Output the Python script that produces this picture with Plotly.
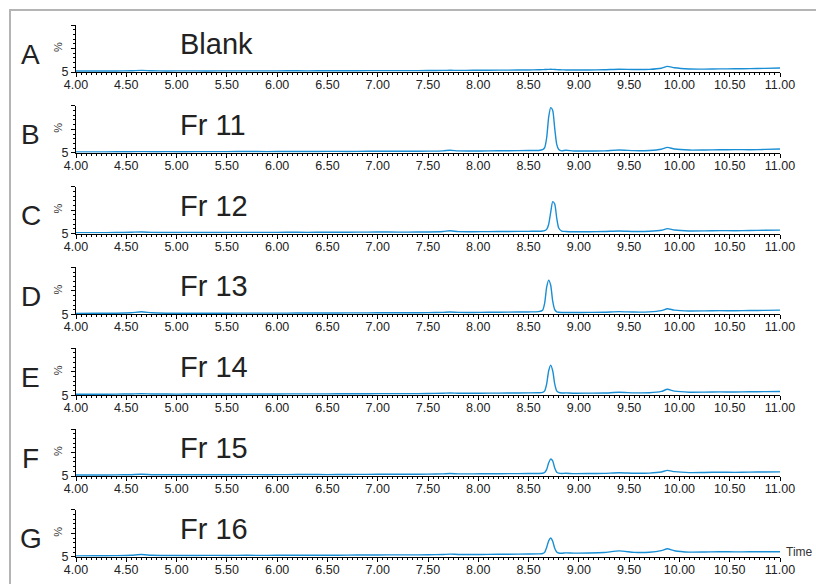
import plotly.graph_objects as go

# ---------------- data ----------------
time_min = [4.00, 4.20, 4.40, 4.55, 4.65, 4.75, 4.90, 5.10, 5.30, 5.50, 5.70, 5.90, 6.10, 6.30,
            6.50, 6.70, 6.90, 7.10, 7.30, 7.50, 7.65, 7.72, 7.80, 7.95, 8.10, 8.30, 8.50, 8.60,
            8.64, 8.66, 8.68, 8.70, 8.72, 8.74, 8.76, 8.78, 8.80, 8.83, 8.87, 8.95, 9.10, 9.25,
            9.40, 9.55, 9.70, 9.82, 9.88, 9.95, 10.10, 10.25, 10.40, 10.55, 10.70, 10.85, 11.00]

panel_letters = ["A", "B", "C", "D", "E", "F", "G"]
sample_names = ["Blank", "Fr 11", "Fr 12", "Fr 13", "Fr 14", "Fr 15", "Fr 16"]

blank = [2.0, 2.0, 2.2, 2.6, 3.5, 2.6, 2.2, 2.4, 2.2, 2.5, 2.4, 2.3, 2.6, 2.5, 2.8, 2.7, 2.9, 3.0,
         2.9, 3.2, 3.4, 3.6, 3.4, 3.6, 3.8, 4.0, 4.4, 4.8, 5.0, 5.2, 5.4, 5.6, 5.8, 5.6, 5.4, 5.0,
         4.8, 4.6, 4.4, 4.2, 4.4, 4.8, 6.0, 5.2, 5.6, 8.0, 12.0, 9.0, 6.5, 6.2, 6.6, 6.8, 7.2, 7.8, 8.5]
fr11 = [2.0, 2.0, 2.1, 2.3, 2.6, 2.3, 2.4, 2.3, 2.6, 2.5, 2.7, 2.6, 2.9, 2.8, 3.0, 2.9, 3.2, 3.3,
        3.2, 3.5, 4.2, 5.5, 4.0, 3.8, 4.2, 4.4, 4.8, 5.0, 6.5, 11, 32, 76, 96, 90, 52, 18, 7.0, 4.2,
        5.5, 3.8, 3.8, 4.2, 6.0, 4.6, 5.0, 7.5, 11.5, 8.0, 5.8, 6.0, 6.4, 6.8, 6.6, 7.2, 8.0]
fr12 = [2.0, 2.0, 2.2, 2.8, 3.4, 2.6, 2.4, 2.5, 2.4, 2.6, 2.5, 2.6, 2.8, 2.7, 3.0, 2.9, 3.2, 3.3,
        3.2, 3.5, 4.5, 6.0, 4.2, 4.0, 4.3, 4.5, 4.8, 5.0, 5.6, 6.4, 9.0, 20, 45, 68, 63, 33, 12, 5.5,
        4.6, 3.8, 4.0, 4.4, 5.6, 4.6, 5.0, 7.0, 10.5, 7.6, 5.6, 5.8, 6.4, 6.2, 6.6, 7.0, 7.4]
fr13 = [2.0, 2.3, 2.6, 3.4, 5.5, 3.4, 2.6, 2.5, 2.6, 2.5, 2.8, 2.7, 2.8, 3.0, 2.9, 3.2, 3.3, 3.5,
        3.4, 3.7, 4.4, 5.0, 4.3, 4.2, 4.5, 4.8, 5.2, 6.0, 9.0, 24, 58, 73, 62, 28, 10, 5.5, 4.6, 4.2,
        4.2, 4.0, 4.3, 4.6, 6.0, 5.0, 5.4, 8.0, 12.0, 9.0, 7.2, 7.5, 8.0, 7.8, 8.2, 8.6, 9.0]
fr14 = [2.0, 2.0, 2.3, 2.6, 3.2, 2.6, 2.4, 2.4, 2.6, 2.5, 2.7, 2.6, 2.8, 2.9, 2.8, 3.1, 3.2, 3.4,
        3.3, 3.6, 4.2, 4.8, 4.2, 4.1, 4.4, 4.6, 4.9, 5.2, 6.0, 9.0, 24, 52, 64, 52, 24, 9.0, 5.8, 4.6,
        5.0, 4.2, 4.4, 4.6, 6.2, 5.0, 5.2, 8.0, 12.5, 8.6, 6.4, 6.6, 7.0, 6.8, 7.2, 7.6, 7.8]
fr15 = [2.0, 2.0, 2.3, 2.8, 3.6, 2.8, 2.6, 2.6, 2.8, 2.6, 3.0, 2.8, 3.0, 3.2, 3.0, 3.3, 3.5, 3.7,
        3.7, 4.0, 4.6, 5.2, 4.6, 4.5, 4.8, 5.0, 5.2, 5.4, 5.8, 7.5, 14, 28, 36, 32, 17, 8.0, 6.0, 5.4,
        5.8, 5.0, 5.2, 5.6, 7.0, 5.8, 6.2, 8.5, 12.0, 9.2, 7.2, 7.6, 8.0, 7.8, 8.2, 8.6, 8.8]
fr16 = [2.0, 2.2, 2.5, 3.2, 4.8, 3.2, 2.8, 2.8, 3.0, 2.9, 3.2, 3.0, 3.3, 3.4, 3.3, 3.6, 3.8, 4.0,
        4.0, 4.3, 5.0, 5.6, 5.0, 4.9, 5.2, 5.5, 5.8, 6.2, 7.0, 9.5, 20, 34, 40, 33, 18, 10, 8.0, 7.6,
        8.4, 7.8, 8.0, 9.0, 12.5, 9.4, 9.6, 13, 17, 13, 10, 10.2, 10.8, 10.4, 10.6, 10.8, 10.6]

series = [blank, fr11, fr12, fr13, fr14, fr15, fr16]

x_tick_vals = [4.0, 4.5, 5.0, 5.5, 6.0, 6.5, 7.0, 7.5, 8.0, 8.5, 9.0, 9.5, 10.0, 10.5, 11.0]
x_tick_text = ["4.00", "4.50", "5.00", "5.50", "6.00", "6.50", "7.00", "7.50", "8.00", "8.50",
               "9.00", "9.50", "10.00", "10.50", "11.00"]
y_tick_vals = [0, 50, 100]
y_tick_text = ["5", "", ""]

# ---------------- layout ----------------
W, H = 816, 584
LINE_COLOR = "#1a8ed4"
FONT = "Liberation Sans, Arial, sans-serif"
x_dom = [76 / W, 780 / W]
base0, step, ph = 72.0, 80.8, 47.0

fig = go.Figure()
layout = dict(
    width=W, height=H, margin=dict(l=0, r=0, t=0, b=0, autoexpand=False),
    paper_bgcolor="white", plot_bgcolor="white", showlegend=False,
    font=dict(family=FONT, color="#222"),
)
annotations = []
for i, (ys, letter, name) in enumerate(zip(series, panel_letters, sample_names)):
    n = "" if i == 0 else str(i + 1)
    base = base0 + step * i
    top = base - ph
    fig.add_trace(go.Scatter(x=time_min, y=ys, mode="lines",
                             line=dict(color=LINE_COLOR, width=1.4, shape="spline", smoothing=0.6),
                             xaxis="x" + n, yaxis="y" + n, hoverinfo="skip", cliponaxis=False))
    layout["xaxis" + n] = dict(
        domain=x_dom, anchor="y" + n, range=[4, 11], tickvals=x_tick_vals, ticktext=x_tick_text,
        ticks="outside", ticklen=4, tickcolor="#000", tickwidth=1, automargin=False,
        ticklabelstandoff=-3,
        showline=True, linecolor="#000", linewidth=1, showgrid=False, zeroline=False,
        tickfont=dict(size=12.5, color="#222", family=FONT),
        minor=dict(dtick=0.05, tick0=4, ticks="outside", ticklen=2, tickcolor="#000", showgrid=False),
    )
    layout["yaxis" + n] = dict(
        domain=[(H - base) / H, (H - top) / H], anchor="x" + n, range=[0, 100],
        tickvals=y_tick_vals, ticktext=y_tick_text, ticks="outside", ticklen=4, automargin=False,
        tickcolor="#000", tickwidth=1, showline=True, linecolor="#000", linewidth=1,
        showgrid=False, zeroline=False, tickfont=dict(size=12.5, color="#222", family=FONT),
        minor=dict(dtick=10, ticks="outside", ticklen=2, tickcolor="#000", showgrid=False),
    )
    annotations.append(dict(text=letter, x=31 / W, y=(H - (base - 18)) / H, xref="paper",
                            yref="paper", xanchor="center", yanchor="middle", showarrow=False,
                            font=dict(size=28, color="#222", family=FONT)))
    annotations.append(dict(text="%", x=58 / W, y=(H - (base - 25)) / H, xref="paper",
                            yref="paper", xanchor="center", yanchor="middle", showarrow=False,
                            textangle=-90, font=dict(size=11, color="#333", family=FONT)))
    annotations.append(dict(text=name, x=178 / W, y=(H - (base - 28)) / H, xref="paper",
                            yref="paper", xanchor="left", yanchor="middle", showarrow=False,
                            font=dict(size=29, color="#222", family=FONT)))

annotations.append(dict(text="Time", x=784 / W, y=(H - (base0 + step * 6 - 5)) / H, xref="paper",
                        yref="paper", xanchor="left", yanchor="middle", showarrow=False,
                        font=dict(size=12, color="#333", family=FONT)))
layout["annotations"] = annotations
layout["shapes"] = [dict(type="rect", xref="paper", yref="paper", x0=10 / W, y0=-0.05,
                         x1=1.05, y1=(H - 10) / H, line=dict(color="#b4b4b4", width=2),
                         fillcolor="rgba(0,0,0,0)", layer="below")]
fig.update_layout(**layout)
fig.write_html("out.html", config={"displayModeBar": False},
               post_script="document.body.style.margin='0';document.body.style.overflow='hidden';")
